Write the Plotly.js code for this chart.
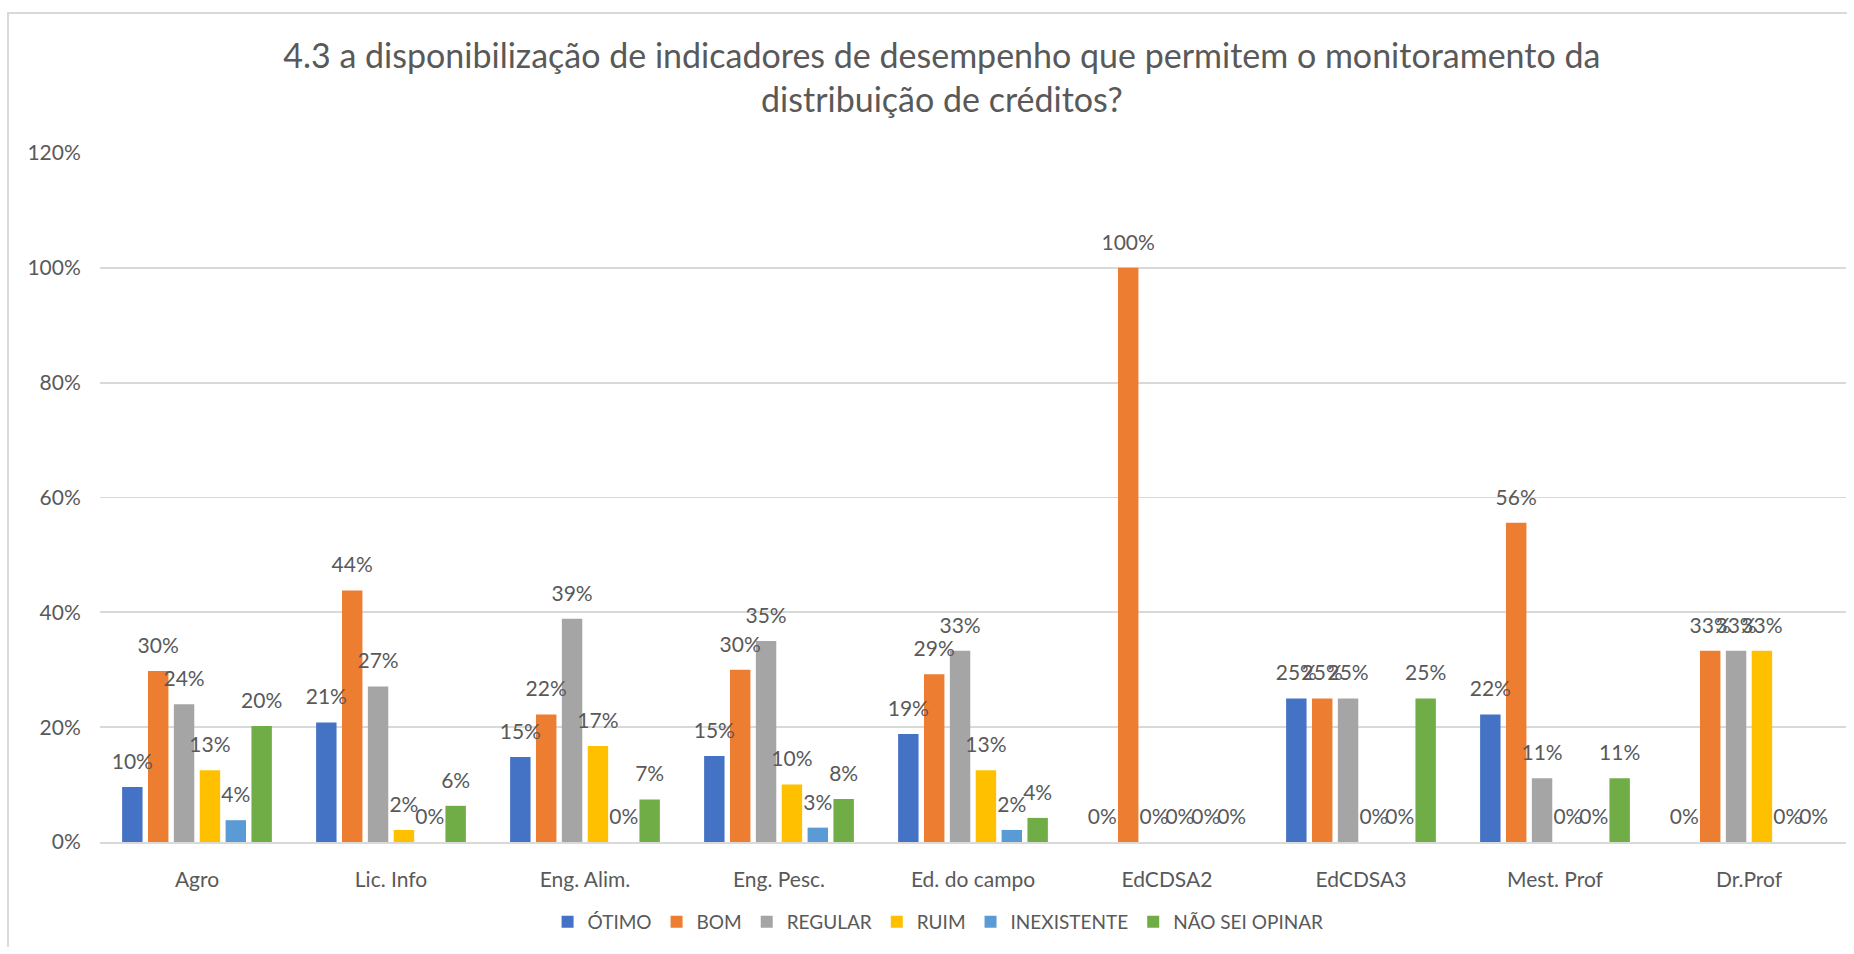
<!DOCTYPE html>
<html>
<head>
<meta charset="utf-8">
<script src="https://cdn.plot.ly/plotly-3.0.1.min.js"></script>
<style>
  html, body { margin: 0; padding: 0; background: #ffffff; overflow: hidden; width: 1854px; height: 954px; }
  #frame { position: absolute; left: 7px; top: 12px; width: 1840px; height: 935px;
           border-left: 2px solid #D9D9D9; border-top: 2px solid #D9D9D9; pointer-events: none; box-sizing: border-box; }
  #chart { position: absolute; left: 0; top: 0; width: 1854px; height: 954px; }
</style>
</head>
<body>
<div id="chart"></div>
<div id="frame"></div>
<script>
const categories = ['Agro', 'Lic. Info', 'Eng. Alim.', 'Eng. Pesc.', 'Ed. do campo', 'EdCDSA2', 'EdCDSA3', 'Mest. Prof', 'Dr.Prof'];
const seriesNames = ['ÓTIMO', 'BOM', 'REGULAR', 'RUIM', 'INEXISTENTE', 'NÃO SEI OPINAR'];
const otimo       = [9.6, 20.8, 14.8, 15.0, 18.8, 0, 25, 22.2, 0];
const bom         = [29.8, 43.8, 22.2, 30.0, 29.2, 100, 25, 55.6, 33.3];
const regular     = [24.0, 27.1, 38.9, 35.0, 33.3, 0, 25, 11.1, 33.3];
const ruim        = [12.5, 2.1, 16.7, 10.0, 12.5, 0, 0, 0, 33.3];
const inexistente = [3.8, 0, 0, 2.5, 2.1, 0, 0, 0, 0];
const naoSei      = [20.2, 6.3, 7.4, 7.5, 4.2, 0, 25, 11.1, 0];
const colors = ['#4472C4', '#ED7D31', '#A5A5A5', '#FFC000', '#5B9BD5', '#70AD47'];
const titleText = '4.3 a disponibilização de indicadores de desempenho que permitem o monitoramento da<br>distribuição de créditos?';

const FONT = 'Lato, "Open Sans", sans-serif';
const TXT = '#595959';
const allSeries = [otimo, bom, regular, ruim, inexistente, naoSei];
const BARGAP = 0.2;

const traces = [];
allSeries.forEach((vals, i) => {
  traces.push({
    type: 'bar', name: seriesNames[i], x: categories, y: vals,
    marker: { color: colors[i] },
    offsetgroup: 'g' + i, alignmentgroup: 'a',
    hoverinfo: 'skip'
  });
});
allSeries.forEach((vals, i) => {
  traces.push({
    type: 'scatter', mode: 'markers+text', x: categories, y: vals,
    text: vals.map(v => Math.round(v) + '%'),
    textposition: 'top center',
    textfont: { family: FONT, size: 21, color: TXT },
    marker: { size: 19, opacity: 0, color: colors[i] },
    offsetgroup: 'g' + i, alignmentgroup: 'a',
    showlegend: false, hoverinfo: 'skip', cliponaxis: false
  });
});

const layout = {
  width: 1854, height: 954,
  paper_bgcolor: '#ffffff', plot_bgcolor: '#ffffff',
  margin: { l: 100, r: 8, t: 153, b: 112 },
  barmode: 'group', bargap: BARGAP, bargroupgap: 0.21,
  scattermode: 'group', scattergap: BARGAP,
  font: { family: FONT, color: TXT, size: 21 },
  title: {
    text: titleText,
    font: { family: FONT, size: 34, color: TXT },
    x: 0.508, xanchor: 'center', xref: 'container',
    y: 0.9287, yanchor: 'middle', yref: 'container'
  },
  xaxis: {
    type: 'category', showgrid: false, showline: true, linecolor: '#D9D9D9', linewidth: 1.8,
    ticks: 'outside', ticklen: 18, tickcolor: 'rgba(0,0,0,0)',
    tickfont: { family: FONT, size: 21, color: TXT }, zeroline: false
  },
  yaxis: {
    range: [0, 120], dtick: 20, ticksuffix: '%',
    showgrid: true, gridcolor: '#D9D9D9', gridwidth: 1.8,
    zeroline: false, showline: false,
    ticks: 'outside', ticklen: 14, tickcolor: 'rgba(0,0,0,0)',
    tickfont: { family: FONT, size: 21, color: TXT }
  },
  showlegend: true,
  legend: {
    orientation: 'h', x: 0.48, xanchor: 'center', y: -0.116, yanchor: 'middle',
    font: { family: FONT, size: 19, color: TXT }, traceorder: 'normal'
  }
};

Plotly.newPlot('chart', traces, layout, { displayModeBar: false, staticPlot: true });
</script>
</body>
</html>
